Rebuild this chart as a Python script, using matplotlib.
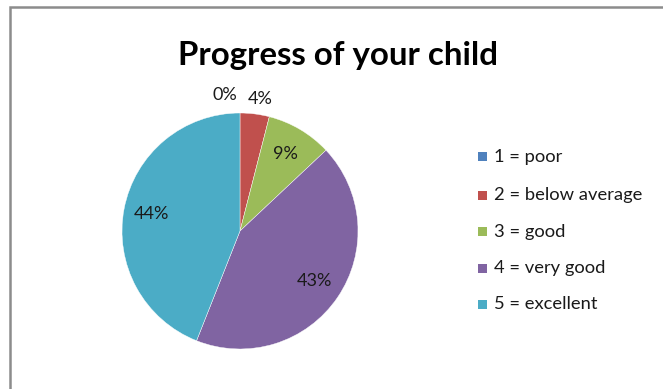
import matplotlib
matplotlib.use('Agg')
import matplotlib.pyplot as plt
from matplotlib.patches import Rectangle

categories = ['1 = poor', '2 = below average', '3 = good', '4 = very good', '5 = excellent']
shares = [0, 4, 9, 43, 44]
colors = ['#4F81BD', '#C0504D', '#9BBB59', '#8064A2', '#4BACC6']

plt.rcParams['font.family'] = ['Lato', 'DejaVu Sans']

W, H = 663, 389
fig = plt.figure(figsize=(W / 100, H / 100), dpi=100)

# chart frame (runs off the right and bottom edge)
fig.patches.append(Rectangle((10 / W, -0.1), 1.2, (H - 7) / H + 0.1, transform=fig.transFigure,
                             fill=False, edgecolor='#8c8c8c', linewidth=1.8))

fig.text(338 / W, 1 - 55 / H, 'Progress of your child', ha='center', va='center',
         fontsize=23.8, fontweight='bold', color='black')

cx, cy, r = 240, 231, 118
ax = fig.add_axes([(cx - r) / W, (H - cy - r) / H, 2 * r / W, 2 * r / H])
wedges, texts, autotexts = ax.pie(shares, colors=colors, startangle=90, counterclock=False,
                                  autopct='%1.0f%%', pctdistance=0.76,
                                  wedgeprops=dict(edgecolor='white', linewidth=0.3),
                                  textprops=dict(fontsize=13, color='#1a1a1a'))
ax.set_xlim(-1, 1)
ax.set_ylim(-1, 1)
ax.set_aspect('auto')

# small slices get their labels outside
autotexts[0].set_position((-0.13, 1.15))
autotexts[1].set_position((0.17, 1.12))

# legend
rows = [157, 195, 232, 268, 304]
for lab, col, y in zip(categories, colors, rows):
    fig.patches.append(Rectangle((478 / W, 1 - (y + 4.5) / H), 9 / W, 9 / H,
                                 transform=fig.transFigure, facecolor=col, edgecolor='none'))
    fig.text(494 / W, 1 - y / H, lab, ha='left', va='center', fontsize=13.2, color='#1a1a1a')

fig.savefig('out.png', dpi=100)
